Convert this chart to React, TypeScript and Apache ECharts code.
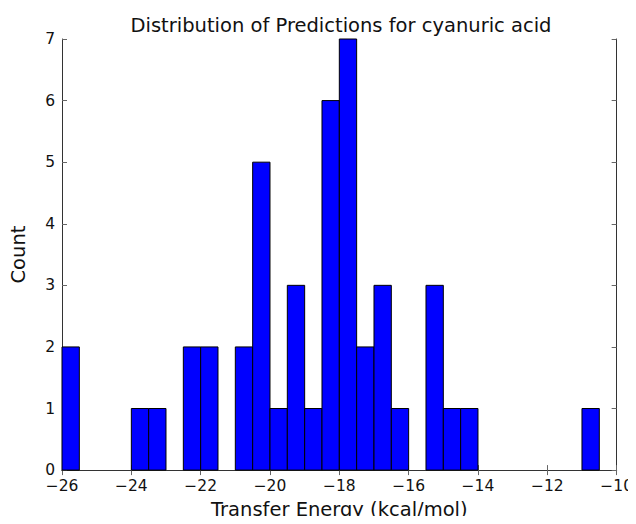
import React, { useEffect, useRef } from "react";
import * as echarts from "echarts";

const binStarts = [
  -26, -25.5, -25, -24.5, -24, -23.5, -23, -22.5, -22, -21.5, -21, -20.5, -20, -19.5, -19, -18.5,
  -18, -17.5, -17, -16.5, -16, -15.5, -15, -14.5, -14, -13.5, -13, -12.5, -12, -11.5, -11,
];
const counts = [
  2, 0, 0, 0, 1, 1, 0, 2, 2, 0, 2, 5, 1, 3, 1, 6,
  7, 2, 3, 1, 0, 3, 1, 1, 0, 0, 0, 0, 0, 0, 1,
];
const binWidth = 0.5;
const titleText = "Distribution of Predictions for cyanuric acid";
const xTitle = "Transfer Energy (kcal/mol)";
const yTitle = "Count";

export default function App() {
  const ref = useRef<HTMLDivElement>(null);
  useEffect(() => {
    if (!ref.current) return;
    const chart = echarts.init(ref.current, null, { renderer: "svg" });
    const font = "DejaVu Sans";
    const frameLine = { show: true, lineStyle: { color: "#333", width: 1 } };
    const tick = { show: true, inside: true, length: 5, lineStyle: { color: "#666" } };
    chart.setOption({
      animation: false,
      backgroundColor: "#fff",
      title: {
        text: titleText,
        left: 336,
        textAlign: "center",
        top: 10,
        textStyle: { fontFamily: font, fontSize: 19.5, fontWeight: "normal", color: "#111" },
      },
      grid: { left: 57, right: 18, top: 39, bottom: 51, containLabel: false },
      xAxis: [
        {
          type: "value",
          min: -26,
          max: -10,
          interval: 2,
          position: "bottom",
          name: xTitle,
          nameLocation: "middle",
          nameGap: 26,
          nameTextStyle: { fontFamily: font, fontSize: 19.5, color: "#111", lineHeight: 20 },
          axisLine: frameLine,
          axisTick: tick,
          splitLine: { show: false },
          axisLabel: {
            fontFamily: font,
            fontSize: 15.5,
            color: "#111",
            margin: 8,
            formatter: (v: number) => String(v).replace("-", "\u2212"),
          },
        },
        {
          type: "value",
          min: -26,
          max: -10,
          interval: 2,
          position: "top",
          axisLine: frameLine,
          axisTick: tick,
          splitLine: { show: false },
          axisLabel: { show: false },
        },
      ],
      yAxis: [
        {
          type: "value",
          min: 0,
          max: 7,
          interval: 1,
          position: "left",
          name: yTitle,
          nameLocation: "middle",
          nameGap: 34,
          nameRotate: 90,
          nameTextStyle: { fontFamily: font, fontSize: 19.5, color: "#111" },
          axisLine: frameLine,
          axisTick: tick,
          splitLine: { show: false },
          axisLabel: { fontFamily: font, fontSize: 15.5, color: "#111", margin: 7, lineHeight: 12 },
        },
        {
          type: "value",
          min: 0,
          max: 7,
          interval: 1,
          position: "right",
          axisLine: frameLine,
          axisTick: tick,
          splitLine: { show: false },
          axisLabel: { show: false },
        },
      ],
      series: [
        {
          type: "custom",
          xAxisIndex: 0,
          yAxisIndex: 0,
          data: binStarts.map((s, i) => [s, counts[i]]),
          renderItem: (params: any, api: any) => {
            const start = api.value(0);
            const c = api.value(1);
            if (!c) return null;
            const p0 = api.coord([start, c]);
            const p1 = api.coord([start + binWidth, 0]);
            return {
              type: "rect",
              shape: { x: p0[0], y: p0[1], width: p1[0] - p0[0], height: p1[1] - p0[1] },
              style: { fill: "#0000ff", stroke: "#000", lineWidth: 1 },
            };
          },
        },
      ],
    });
    return () => chart.dispose();
  }, []);
  return <div ref={ref} style={{ width: 636, height: 524, margin: -8 }} />;
}
